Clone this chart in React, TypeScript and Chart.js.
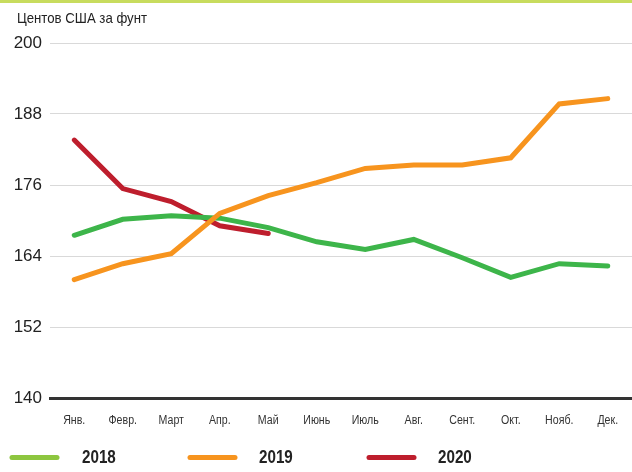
import React, { useEffect, useRef } from 'react';
import { Chart, registerables } from 'chart.js';

Chart.register(...registerables);

const months = ['Янв.', 'Февр.', 'Март', 'Апр.', 'Май', 'Июнь', 'Июль', 'Авг.', 'Сент.', 'Окт.', 'Нояб.', 'Дек.'];
const values2018 = [167.5, 170.2, 170.8, 170.4, 168.8, 166.4, 165.1, 166.8, 163.7, 160.4, 162.7, 162.3];
const values2019 = [160.0, 162.7, 164.4, 171.2, 174.2, 176.4, 178.8, 179.4, 179.4, 180.6, 189.7, 190.6];
const values2020 = [183.6, 175.4, 173.2, 169.1, 167.8];
const yTickValues = [140, 152, 164, 176, 188, 200];
const seriesNames = ['2018', '2019', '2020'];
const unitTitle = 'Центов США за фунт';

const SANS = "'Liberation Sans', Arial, sans-serif";

const lineColors = ['#3db54a', '#f7941e', '#be1e2d'];
const legendColors = ['#8dc63f', '#f7941e', '#be1e2d'];

// draws text horizontally condensed (to imitate a narrow face)
function narrowText(ctx: CanvasRenderingContext2D, text: string, x: number, y: number, font: string, sx: number, align: CanvasTextAlign) {
  ctx.save();
  ctx.font = font;
  ctx.textAlign = align;
  ctx.textBaseline = 'middle';
  ctx.translate(x, y);
  ctx.scale(sx, 1);
  ctx.fillText(text, 0, 0);
  ctx.restore();
}

const decorPlugin = {
  id: 'decor',
  beforeDraw(chart: any) {
    const ctx = chart.ctx;
    ctx.save();
    ctx.fillStyle = '#ffffff';
    ctx.fillRect(0, 0, chart.width, chart.height);
    ctx.fillStyle = '#c8dc5e';
    ctx.fillRect(0, 0, chart.width, 3);
    ctx.fillStyle = '#222222';
    ctx.font = `15px ${SANS}`;
    const w = ctx.measureText(unitTitle).width;
    narrowText(ctx, unitTitle, 17, 19, `15px ${SANS}`, 130 / w, 'left');
    ctx.restore();
  },
  afterDraw(chart: any) {
    const ctx = chart.ctx;
    ctx.save();
    // x category labels
    const xs = chart.scales.x;
    ctx.fillStyle = '#333333';
    months.forEach((m, i) => {
      narrowText(ctx, m, xs.getPixelForValue(i), 421, `12.5px ${SANS}`, 0.85, 'center');
    });
    // legend
    const lineX = [10, 188, 367];
    const textX = [82, 259, 438];
    const y = 457.5;
    for (let i = 0; i < seriesNames.length; i++) {
      ctx.strokeStyle = legendColors[i];
      ctx.lineWidth = 5;
      ctx.lineCap = 'round';
      ctx.beginPath();
      ctx.moveTo(lineX[i] + 2, y);
      ctx.lineTo(lineX[i] + 47, y);
      ctx.stroke();
      ctx.fillStyle = '#222222';
      narrowText(ctx, seriesNames[i], textX[i], y, `bold 19px ${SANS}`, 0.8, 'left');
    }
    ctx.restore();
  },
};

export default function App() {
  const canvasRef = useRef<HTMLCanvasElement | null>(null);

  useEffect(() => {
    if (!canvasRef.current) return;
    const series = [values2018, values2019, values2020];
    const orders = [1, 0, 2];
    const chart = new Chart(canvasRef.current, {
      type: 'line',
      data: {
        labels: months,
        datasets: series.map((vals, i) => ({
          label: seriesNames[i],
          data: vals,
          borderColor: lineColors[i],
          backgroundColor: lineColors[i],
          borderWidth: 5,
          pointRadius: 0,
          borderCapStyle: 'round' as const,
          tension: 0,
          fill: false,
          order: orders[i],
        })),
      },
      options: {
        responsive: false,
        animation: false,
        layout: { padding: { top: 43, left: 0, right: 0, bottom: 0 } },
        plugins: { legend: { display: false }, tooltip: { enabled: false }, title: { display: false } },
        scales: {
          x: {
            offset: true,
            grid: { display: false, drawTicks: false },
            border: { display: true, color: '#333333', width: 3 },
            ticks: { display: false, autoSkip: false },
            afterFit(scale: any) {
              scale.height = 74;
            },
          },
          y: {
            min: 140,
            max: 200,
            afterBuildTicks(scale: any) {
              scale.ticks = yTickValues.map((v) => ({ value: v }));
            },
            grid: { color: '#d9d9d9', lineWidth: 1, drawTicks: false },
            border: { display: false },
            ticks: {
              color: '#222222',
              font: { family: SANS, size: 17 },
              padding: 8,
            },
            afterFit(scale: any) {
              scale.width = 50;
            },
          },
        },
      },
      plugins: [decorPlugin],
    });
    return () => chart.destroy();
  }, []);

  return (
    <div style={{ position: 'absolute', left: 0, top: 0, width: 632, height: 472 }}>
      <canvas ref={canvasRef} width={632} height={472} />
    </div>
  );
}
